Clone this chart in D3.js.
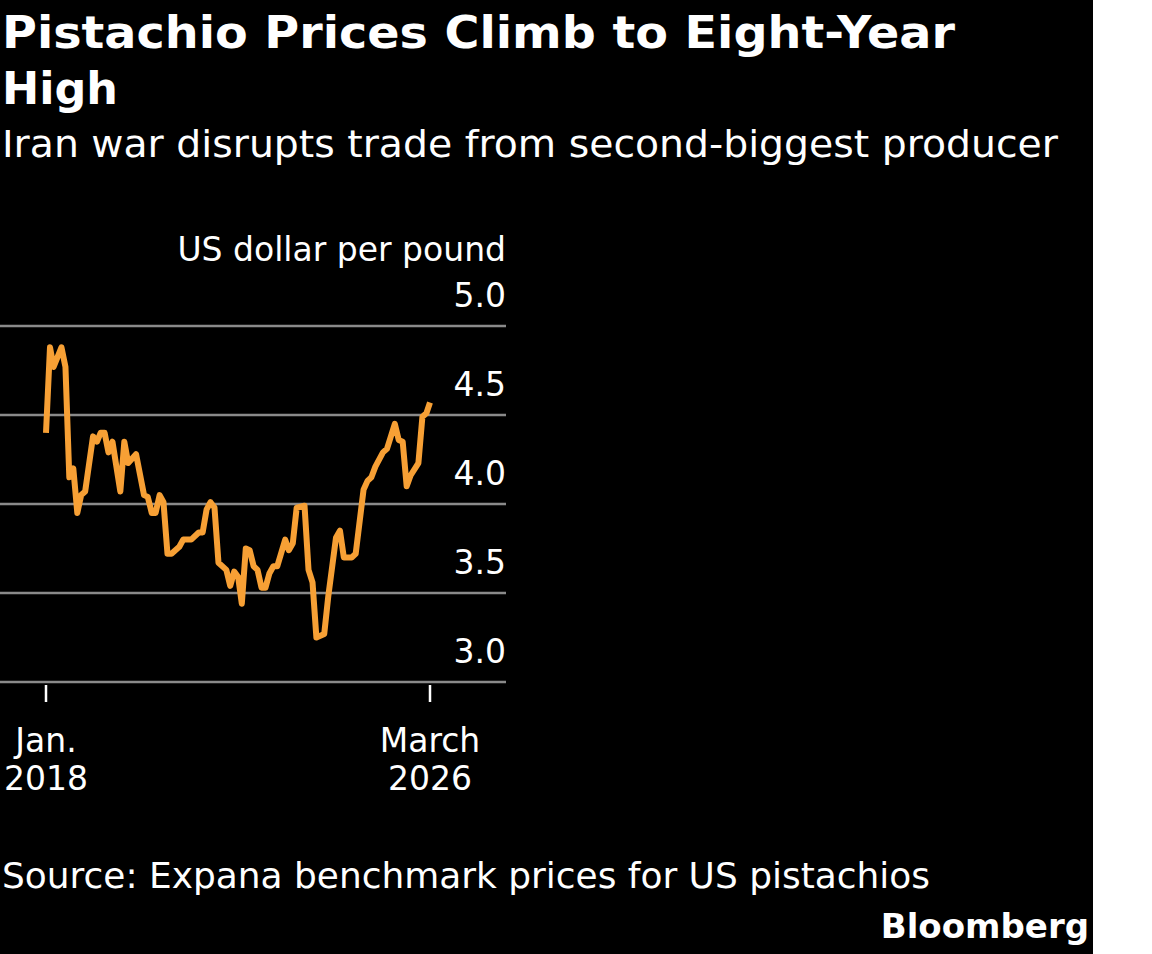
<!DOCTYPE html>
<html><head><meta charset="utf-8">
<script src="https://cdn.jsdelivr.net/npm/d3@7"></script>
<style>body{margin:0;background:#fff}svg{display:block}text{font-family:"DejaVu Sans",sans-serif;fill:#fff}</style>
</head><body><div id="chart"></div>
<script>
// months since Jan. 2018, and price in US dollar per pound
var monthIndex = [0,1,2,4,5,6,7,8,9,10,12,13,14,15,16,17,19,20,21,23,25,26,27,28,29,30,31,32,34,35,37,39,40,41,42,43,44,46,47,48,49,50,51,52,53,54,55,56,57,58,59,61,62,63,64,66,67,68,69,71,72,74,75,76,78,79,81,82,83,84,86,87,89,90,91,92,93,95,96,97,98];
var price = [4.40,4.88,4.77,4.88,4.77,4.15,4.20,3.95,4.05,4.07,4.38,4.35,4.40,4.40,4.29,4.35,4.07,4.35,4.23,4.28,4.05,4.04,3.95,3.95,4.05,4.01,3.72,3.72,3.76,3.80,3.80,3.84,3.84,3.97,4.01,3.98,3.67,3.63,3.54,3.62,3.59,3.44,3.75,3.74,3.65,3.63,3.53,3.53,3.61,3.65,3.65,3.80,3.74,3.78,3.98,3.99,3.63,3.56,3.25,3.27,3.48,3.81,3.85,3.70,3.70,3.72,4.08,4.13,4.15,4.21,4.29,4.31,4.45,4.36,4.35,4.10,4.16,4.23,4.49,4.51,4.57];
var yTicks = [3.0, 3.5, 4.0, 4.5, 5.0];
var xTicks = [{m: 0, l1: 'Jan.', l2: '2018'}, {m: 98, l1: 'March', l2: '2026'}];

var data = monthIndex.map(function (m, i) { return {date: new Date(2018, m, 1), v: price[i]}; });

var svg = d3.select('#chart').append('svg').attr('width', 1152).attr('height', 954);
svg.append('rect').attr('width', 1093).attr('height', 954).attr('fill', '#000');

var x = d3.scaleTime().domain([new Date(2018, 0, 1), new Date(2018, 98, 1)]).range([46, 430]);
var y = d3.scaleLinear().domain([3, 5]).range([682, 326]);

svg.append('text').attr('x', 2).attr('y', 48).style('font-weight', 'bold').style('font-size', '45px')
	.attr('textLength', 953).attr('lengthAdjust', 'spacingAndGlyphs').text('Pistachio Prices Climb to Eight-Year');
svg.append('text').attr('x', 2).attr('y', 104).style('font-weight', 'bold').style('font-size', '45px')
	.attr('textLength', 116).attr('lengthAdjust', 'spacingAndGlyphs').text('High');
svg.append('text').attr('x', 2).attr('y', 157).style('font-size', '38px')
	.attr('textLength', 1056).attr('lengthAdjust', 'spacingAndGlyphs').text('Iran war disrupts trade from second-biggest producer');

svg.append('text').attr('x', 506).attr('y', 261).attr('text-anchor', 'end').style('font-size', '33px').text('US dollar per pound');

var grid = svg.append('g');
yTicks.forEach(function (t) {
	grid.append('line').attr('x1', 0).attr('x2', 506).attr('y1', y(t)).attr('y2', y(t))
		.attr('stroke', '#8a8a8a').attr('stroke-width', 2.5);
	grid.append('text').attr('x', 506).attr('y', y(t) - 19).attr('text-anchor', 'end')
		.style('font-size', '33px').text(t.toFixed(1));
});

xTicks.forEach(function (t) {
	var px = x(new Date(2018, t.m, 1));
	svg.append('line').attr('x1', px).attr('x2', px).attr('y1', 685).attr('y2', 702).attr('stroke', '#fff').attr('stroke-width', 2.5);
	svg.append('text').attr('x', px).attr('y', 752).attr('text-anchor', 'middle').style('font-size', '33px').text(t.l1);
	svg.append('text').attr('x', px).attr('y', 790).attr('text-anchor', 'middle').style('font-size', '33px').text(t.l2);
});

var line = d3.line().x(function (d) { return x(d.date); }).y(function (d) { return y(d.v); });
svg.append('path').datum(data).attr('d', line).attr('fill', 'none')
	.attr('stroke', '#f7a035').attr('stroke-width', 6).attr('stroke-linejoin', 'round');

svg.append('text').attr('x', 2).attr('y', 888).style('font-size', '36px')
	.attr('textLength', 928).attr('lengthAdjust', 'spacingAndGlyphs').text('Source: Expana benchmark prices for US pistachios');
svg.append('text').attr('x', 1089).attr('y', 938).attr('text-anchor', 'end').style('font-weight', 'bold').style('font-size', '34px').text('Bloomberg');
</script></body></html>
